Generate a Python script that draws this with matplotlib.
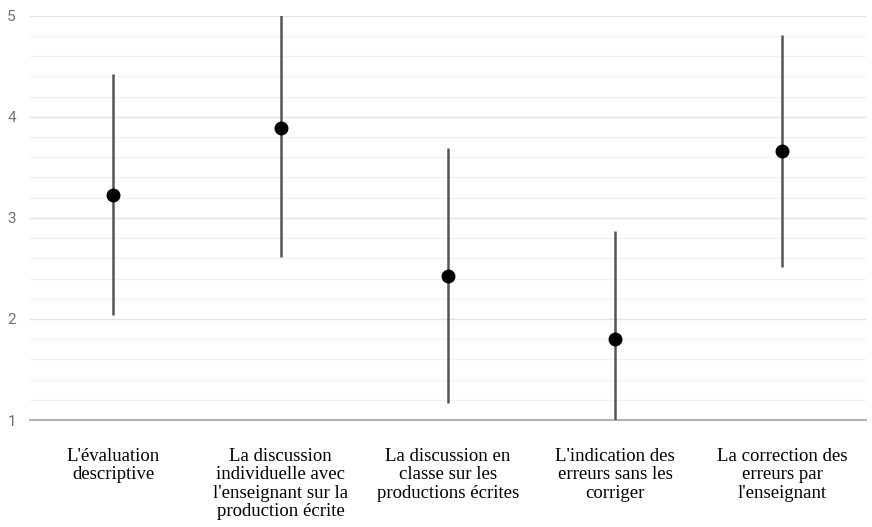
import numpy as np
import matplotlib.pyplot as plt
from matplotlib.ticker import MultipleLocator

# categories and values (mean +/- sd, clipped at 1..5)
labels = ["L'évaluation\ndescriptive",
          "La discussion\nindividuelle avec\nl'enseignant sur la\nproduction écrite",
          "La discussion en\nclasse sur les\nproductions écrites",
          "L'indication des\nerreurs sans les\ncorriger",
          "La correction des\nerreurs par\nl'enseignant"]
means = [3.23, 3.89, 2.43, 1.80, 3.66]
sds = [1.19, 1.28, 1.26, 1.07, 1.15]

fig = plt.figure(figsize=(8.72, 5.27), dpi=100)
ax = fig.add_axes([0.034, 0.203, 0.959, 0.767])

x = np.arange(len(means))
ax.errorbar(x, means, yerr=sds, fmt='o', color='black', ms=9,
            ecolor='#555555', elinewidth=1.8, capsize=0, zorder=3)

ax.set_xlim(-0.5, len(means) - 0.5)
ax.set_ylim(1, 5)
ax.yaxis.set_major_locator(MultipleLocator(1))
ax.yaxis.set_minor_locator(MultipleLocator(0.2))
ax.grid(axis='y', which='major', color='#e4e4e4', lw=1)
ax.grid(axis='y', which='minor', color='#f1f1f1', lw=1)
ax.set_axisbelow(True)

for s in ['top', 'right', 'left']:
    ax.spines[s].set_visible(False)
ax.spines['bottom'].set_color('#b3b3b3')
ax.spines['bottom'].set_linewidth(1.5)

ax.tick_params(axis='both', which='both', length=0)
ax.tick_params(axis='y', labelsize=11, labelcolor='#707070', pad=10)
ax.set_yticks([1, 2, 3, 4, 5])
ax.set_yticklabels(['1', '2', '3', '4', '5'], family='Roboto')

ax.set_xticks(x)
ax.set_xticklabels(labels, family='Liberation Serif', fontsize=13.5,
                   linespacing=1.12, color='black')
ax.tick_params(axis='x', pad=20)

fig.savefig('out.png', dpi=100)
